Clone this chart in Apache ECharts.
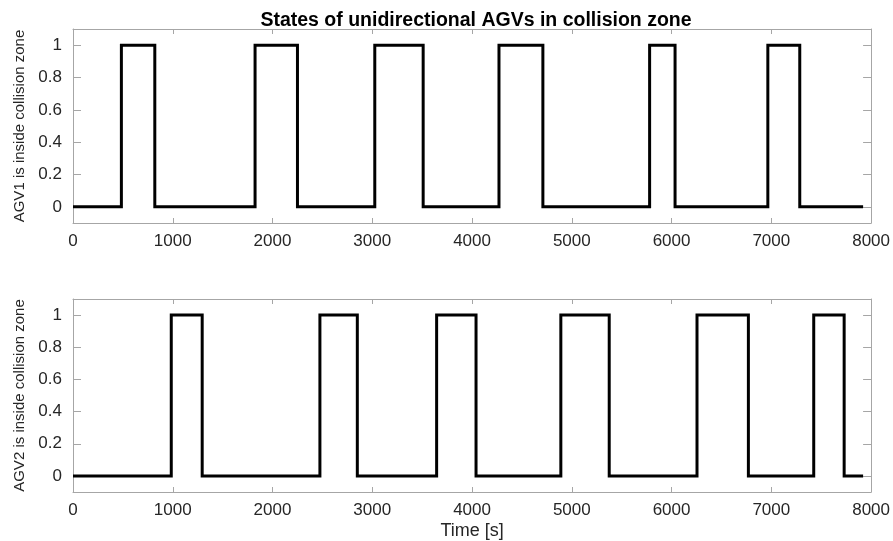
<!DOCTYPE html>
<html>
<head>
<meta charset="utf-8">
<script src="https://cdn.jsdelivr.net/npm/echarts@6/dist/echarts.min.js"></script>
<style>
  html, body { margin: 0; padding: 0; background: #fff; }
  #chart { width: 893px; height: 541px; }
</style>
</head>
<body>
<div id="chart"></div>
<script>
// switching times [s] and the state after each switch
var agv1Times = [0, 485, 820, 1825, 2250, 3025, 3510, 4270, 4710, 5780, 6035, 6965, 7285, 7920];
var agv1States = [0, 1, 0, 1, 0, 1, 0, 1, 0, 1, 0, 1, 0, 0];
var agv2Times = [0, 985, 1295, 2475, 2850, 3645, 4040, 4890, 5375, 6255, 6770, 7425, 7730, 7920];
var agv2States = [0, 1, 0, 1, 0, 1, 0, 1, 0, 1, 0, 1, 0, 0];
var xTicks = [0, 1000, 2000, 3000, 4000, 5000, 6000, 7000, 8000];
var yTicks = [0, 0.2, 0.4, 0.6, 0.8, 1];

var font = 'Liberation Sans, Arial, sans-serif';
var frame = '#a6a6a6';
var txt = '#262626';

function pairs(ts, ss) {
    var out = [];
    for (var i = 0; i < ts.length; i++) out.push([ts[i], ss[i]]);
    return out;
}

function xAxisFor(gi, pos, showLabel, name) {
    return {
        type: 'value', gridIndex: gi, position: pos,
        min: 0, max: 8000,
        name: name || '', nameLocation: 'middle', nameGap: 30,
        nameTextStyle: { fontFamily: font, fontSize: 18, color: txt },
        axisLine: { show: true, onZero: false, lineStyle: { color: frame, width: 1 } },
        axisTick: { show: true, inside: true, length: 5, customValues: xTicks, lineStyle: { color: frame } },
        axisLabel: {
            show: showLabel, customValues: xTicks, margin: 10,
            fontFamily: font, fontSize: 17, color: txt,
            formatter: function (v) { return String(v); }
        },
        splitLine: { show: false }
    };
}

function yAxisFor(gi, pos, showLabel, name) {
    return {
        type: 'value', gridIndex: gi, position: pos,
        min: -0.1, max: 1.1,
        name: name || '', nameLocation: 'middle', nameGap: 45,
        nameTextStyle: { fontFamily: font, fontSize: 15, color: txt },
        axisLine: { show: true, onZero: false, lineStyle: { color: frame, width: 1 } },
        axisTick: { show: true, inside: true, length: 8, customValues: yTicks, lineStyle: { color: frame } },
        axisLabel: { show: showLabel, customValues: yTicks, margin: 11, fontFamily: font, fontSize: 17, color: txt },
        splitLine: { show: false }
    };
}

var chart = echarts.init(document.getElementById('chart'));
chart.setOption({
    backgroundColor: '#fff',
    animation: false,
    title: {
        text: 'States of unidirectional AGVs in collision zone',
        left: 471, top: 6, textAlign: 'center',
        textStyle: { fontFamily: font, fontSize: 19.5, fontWeight: 'bold', color: '#000' }
    },
    grid: [
        { left: 73, top: 29, width: 800, height: 194 },
        { left: 73, top: 299, width: 800, height: 195 }
    ],
    xAxis: [
        xAxisFor(0, 'bottom', true),
        xAxisFor(0, 'top', false),
        xAxisFor(1, 'bottom', true, 'Time [s]'),
        xAxisFor(1, 'top', false)
    ],
    yAxis: [
        yAxisFor(0, 'left', true, 'AGV1 is inside collision zone'),
        yAxisFor(0, 'right', false),
        yAxisFor(1, 'left', true, 'AGV2 is inside collision zone'),
        yAxisFor(1, 'right', false)
    ],
    series: [
        {
            type: 'line', step: 'end', xAxisIndex: 0, yAxisIndex: 0,
            data: pairs(agv1Times, agv1States), showSymbol: false,
            lineStyle: { color: '#000', width: 3, join: 'miter' }
        },
        {
            type: 'line', step: 'end', xAxisIndex: 2, yAxisIndex: 2,
            data: pairs(agv2Times, agv2States), showSymbol: false,
            lineStyle: { color: '#000', width: 3, join: 'miter' }
        }
    ]
});
</script>
</body>
</html>
